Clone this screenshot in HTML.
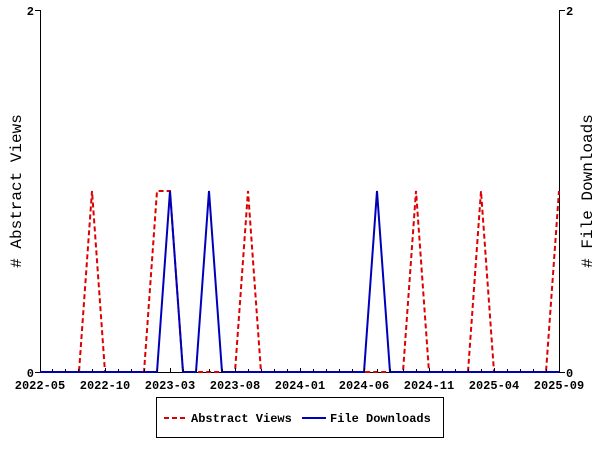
<!DOCTYPE html>
<html><head><style>body{margin:0;background:#fff}svg{display:block}</style></head><body>
<svg width="600" height="450" xmlns="http://www.w3.org/2000/svg" font-family="Liberation Mono, monospace">
<rect width="600" height="450" fill="#fff"/>
<g stroke="#000" stroke-width="1" fill="none">
<line x1="40.5" y1="10" x2="40.5" y2="372"/>
<line x1="559.5" y1="10" x2="559.5" y2="372"/>
<line x1="40" y1="372.5" x2="560" y2="372.5"/>
<line x1="35" y1="10.5" x2="40" y2="10.5"/><line x1="35" y1="372.5" x2="40" y2="372.5"/>
<line x1="560" y1="10.5" x2="565" y2="10.5"/><line x1="560" y1="372.5" x2="565" y2="372.5"/>
</g>
<g font-size="12" font-weight="bold" fill="#000">
<text x="34" y="377" text-anchor="end">0</text>
<text x="34" y="15" text-anchor="end">2</text>
<text x="566" y="377">0</text>
<text x="566" y="15">2</text>
<g text-anchor="middle">
<text x="40" y="389">2022-05</text><text x="105" y="389">2022-10</text><text x="170" y="389">2023-03</text>
<text x="235" y="389">2023-08</text><text x="300" y="389">2024-01</text><text x="364" y="389">2024-06</text>
<text x="429" y="389">2024-11</text><text x="494" y="389">2025-04</text><text x="559" y="389">2025-09</text>
</g>
</g>
<text transform="translate(21,191) rotate(-90)" font-size="16" text-anchor="middle">#  Abstract Views</text>
<text transform="translate(592,191) rotate(-90)" font-size="16" text-anchor="middle">#  File Downloads</text>
<polyline fill="none" stroke="#dd0000" stroke-width="2" stroke-dasharray="5,3" points="40,372 79,372 92,191 105,372 144,372 157,191 170,191 183,372 235,372 248,191 261,372 403,372 416,191 429,372 468,372 481,191 494,372 546,372 559,191"/>
<polyline fill="none" stroke="#0000bb" stroke-width="2" points="40,372 157,372 170,191 183,372 196,372 209,191 222,372 364,372 377,191 390,372 559,372"/>
<rect x="156.5" y="397.5" width="287" height="40" fill="#fff" stroke="#000"/>
<line x1="164" y1="418" x2="188" y2="418" stroke="#dd0000" stroke-width="2" stroke-dasharray="5,3"/>
<text x="191" y="422" font-size="12" font-weight="bold">Abstract Views</text>
<line x1="302" y1="418" x2="326" y2="418" stroke="#0000bb" stroke-width="2"/>
<text x="330" y="422" font-size="12" font-weight="bold">File Downloads</text>
<g stroke="#000">
<path d="M52.5 372v-3M65.5 372v-3M78.5 372v-3M92.5 372v-3M105.5 372v-4M118.5 372v-3M131.5 372v-3M144.5 372v-3M157.5 372v-3M170.5 372v-4M183.5 372v-3M196.5 372v-3M209.5 372v-3M222.5 372v-3M235.5 372v-4M248.5 372v-3M261.5 372v-3M274.5 372v-3M287.5 372v-3M300.5 372v-4M313.5 372v-3M326.5 372v-3M339.5 372v-3M352.5 372v-3M364.5 372v-4M377.5 372v-3M390.5 372v-3M403.5 372v-3M416.5 372v-3M429.5 372v-4M442.5 372v-3M455.5 372v-3M468.5 372v-3M481.5 372v-3M494.5 372v-4M507.5 372v-3M520.5 372v-3M533.5 372v-3M546.5 372v-3"/>
</g>
</svg>
</body></html>
